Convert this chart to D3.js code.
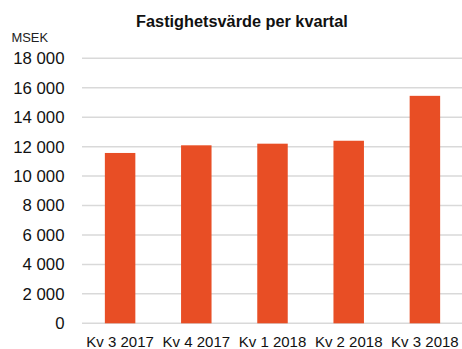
<!DOCTYPE html>
<html>
<head>
<meta charset="utf-8">
<script src="https://cdn.jsdelivr.net/npm/d3@7"></script>
<style>
  html, body { margin: 0; padding: 0; background: #fff; }
  svg { display: block; font-family: "Liberation Sans", Arial, Helvetica, sans-serif; }
</style>
</head>
<body>
<svg id="chart" width="462" height="349"></svg>
<script>
// Quarterly property value, MSEK
const categories = ["Kv 3 2017", "Kv 4 2017", "Kv 1 2018", "Kv 2 2018", "Kv 3 2018"];
const values = [11570, 12090, 12200, 12400, 15450];
const yTicks = [0, 2000, 4000, 6000, 8000, 10000, 12000, 14000, 16000, 18000];

const svg = d3.select("#chart");
const plotLeft = 82, plotRight = 463, plotTop = 58.3, plotBottom = 323.3;

const x = d3.scaleBand().domain(categories).range([plotLeft, plotRight]).paddingInner(0.6).paddingOuter(0.3);
const y = d3.scaleLinear().domain([0, 18000]).range([plotBottom, plotTop]);

const fmt = v => d3.format(",")(v).replace(/,/g, " ");

// Title and unit
svg.append("text").attr("x", 242).attr("y", 26.5).attr("text-anchor", "middle")
  .attr("font-size", 16.3).attr("font-weight", "bold").attr("fill", "#111")
  .text("Fastighetsvärde per kvartal");
svg.append("text").attr("x", 11.5).attr("y", 41.7)
  .attr("font-size", 12.9).attr("fill", "#222").text("MSEK");

// Horizontal gridlines
svg.append("g").selectAll("line").data(yTicks).join("line")
  .attr("x1", plotLeft).attr("x2", plotRight)
  .attr("y1", d => y(d)).attr("y2", d => y(d))
  .attr("stroke", "#d9d9d9").attr("stroke-width", 1.5);

// Y axis labels
const yAxis = svg.append("g").attr("transform", `translate(${64.5},0)`)
  .call(d3.axisLeft(y).tickValues(yTicks).tickFormat(fmt).tickSize(0).tickPadding(0));
yAxis.select(".domain").remove();
yAxis.selectAll("text").attr("font-size", 16.8).attr("fill", "#111")
  .attr("font-family", "'Liberation Sans', Arial, sans-serif");

// Bars
svg.append("g").selectAll("rect").data(values).join("rect")
  .attr("x", (d, i) => x(categories[i]))
  .attr("width", x.bandwidth())
  .attr("y", d => y(d))
  .attr("height", d => y(0) - y(d))
  .attr("fill", "#e84e25");

// X axis labels
const xAxis = svg.append("g").attr("transform", `translate(0,${plotBottom})`)
  .call(d3.axisBottom(x).tickSize(0).tickPadding(0));
xAxis.select(".domain").remove();
xAxis.selectAll("text").attr("dy", 0).attr("y", 23.3).attr("font-size", 15)
  .attr("fill", "#111").attr("font-family", "'Liberation Sans', Arial, sans-serif");
</script>
</body>
</html>
